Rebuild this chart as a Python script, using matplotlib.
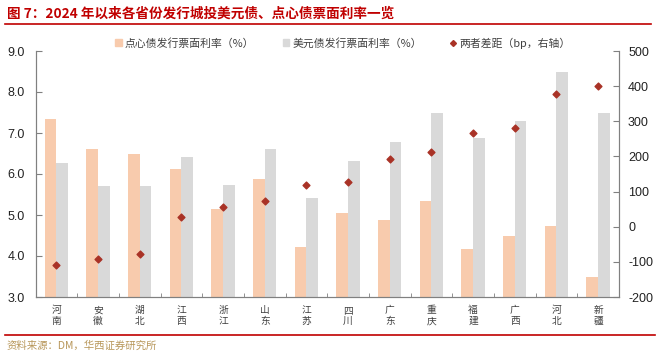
import matplotlib
matplotlib.use("Agg")
import matplotlib.pyplot as plt
import numpy as np
from matplotlib.lines import Line2D
from matplotlib.patches import Patch

plt.rcParams['font.family'] = ['Liberation Sans', 'Noto Sans CJK SC', 'DejaVu Sans']

provinces = ["河南", "安徽", "湖北", "江西", "浙江", "山东", "江苏", "四川", "广东", "重庆", "福建", "广西", "河北", "新疆"]
dim_sum_rate = [7.35, 6.62, 6.48, 6.13, 5.14, 5.88, 4.21, 5.05, 4.87, 5.35, 4.18, 4.50, 4.73, 3.48]
usd_rate = [6.26, 5.70, 5.70, 6.42, 5.72, 6.61, 5.41, 6.32, 6.79, 7.49, 6.87, 7.30, 8.50, 7.49]
spread_bp = [-109, -93, -79, 28, 57, 72, 120, 127, 192, 213, 268, 280, 377, 401]
left_ticks = [3.0, 4.0, 5.0, 6.0, 7.0, 8.0, 9.0]
right_ticks = [-200, -100, 0, 100, 200, 300, 400, 500]

c_orange = "#F8CBAD"
c_gray = "#D9D9D9"
c_red = "#A93226"
axis_col = "#808080"
text_col = "#404040"
cjk = ['Noto Sans CJK SC', 'DejaVu Sans']

fig = plt.figure(figsize=(6.56, 3.56), dpi=100)
ax = fig.add_axes([35.5/656, 1-297/356, (619-35.5)/656, (297-51)/356])
ax2 = ax.twinx()

x = np.arange(len(provinces))
w = 0.28
ax.bar(x - w/2, dim_sum_rate, width=w, color=c_orange, zorder=2)
ax.bar(x + w/2, usd_rate, width=w, color=c_gray, zorder=2)
ax2.scatter(x, spread_bp, marker='D', s=12, color=c_red, zorder=3)

ax.set_xlim(-0.5, len(provinces) - 0.5)
ax.set_ylim(3.0, 9.0)
ax2.set_ylim(-200, 500)
ax.set_yticks(left_ticks)
ax.set_yticklabels([f"{v:.1f}" for v in left_ticks], fontsize=9, color="#222222")
ax2.set_yticks(right_ticks)
ax2.set_yticklabels([str(v) for v in right_ticks], fontsize=9, color="#222222")

ax.set_xticks(x)
ax.set_xticklabels(["\n".join(p) for p in provinces], fontsize=7, color=text_col,
                   family=cjk, linespacing=1.1)
ax.tick_params(axis='x', length=0, pad=6)
ax.set_xticks(np.arange(-0.5, len(provinces), 1.0), minor=True)
ax.tick_params(axis='x', which='minor', direction='in', length=3, color=axis_col)
ax.tick_params(axis='y', direction='in', length=4, color=axis_col, pad=7.5)
ax2.tick_params(axis='y', direction='in', length=4, color=axis_col, pad=6.5)

for a in (ax, ax2):
    a.spines['top'].set_visible(False)
    for s in ('left', 'right', 'bottom'):
        a.spines[s].set_color(axis_col)
        a.spines[s].set_linewidth(0.8)

handles = [Patch(color=c_orange, label="点心债发行票面利率（%）"),
           Patch(color=c_gray, label="美元债发行票面利率（%）"),
           Line2D([], [], marker='D', color=c_red, linestyle='None', markersize=3,
                  label="两者差距（bp，右轴）")]
leg = fig.legend(handles=handles, loc='center', bbox_to_anchor=(343/656, 1-43/356), ncol=3,
                 frameon=False, prop={'family': cjk, 'size': 7.8}, handlelength=0.6,
                 handleheight=0.6, handletextpad=0.3, columnspacing=2.6)
for t in leg.get_texts():
    t.set_color(text_col)

fig.text(7/656, 1-14/356, "图 7：2024 年以来各省份发行城投美元债、点心债票面利率一览",
         fontsize=9.8, fontweight='bold', color="#C00000", va='center', ha='left', family=cjk)
fig.add_artist(Line2D([5/656, 651/656], [1-24/356, 1-24/356], color="#C00000", linewidth=1.2))
fig.add_artist(Line2D([5/656, 655/656], [1-334.5/356, 1-334.5/356], color="#C00000", linewidth=1.2))
fig.text(7/656, 1-346/356, "资料来源：DM，华西证券研究所", fontsize=7.5, color="#B8975A",
         va='center', ha='left', family=cjk)

fig.savefig("out.png", dpi=100)
